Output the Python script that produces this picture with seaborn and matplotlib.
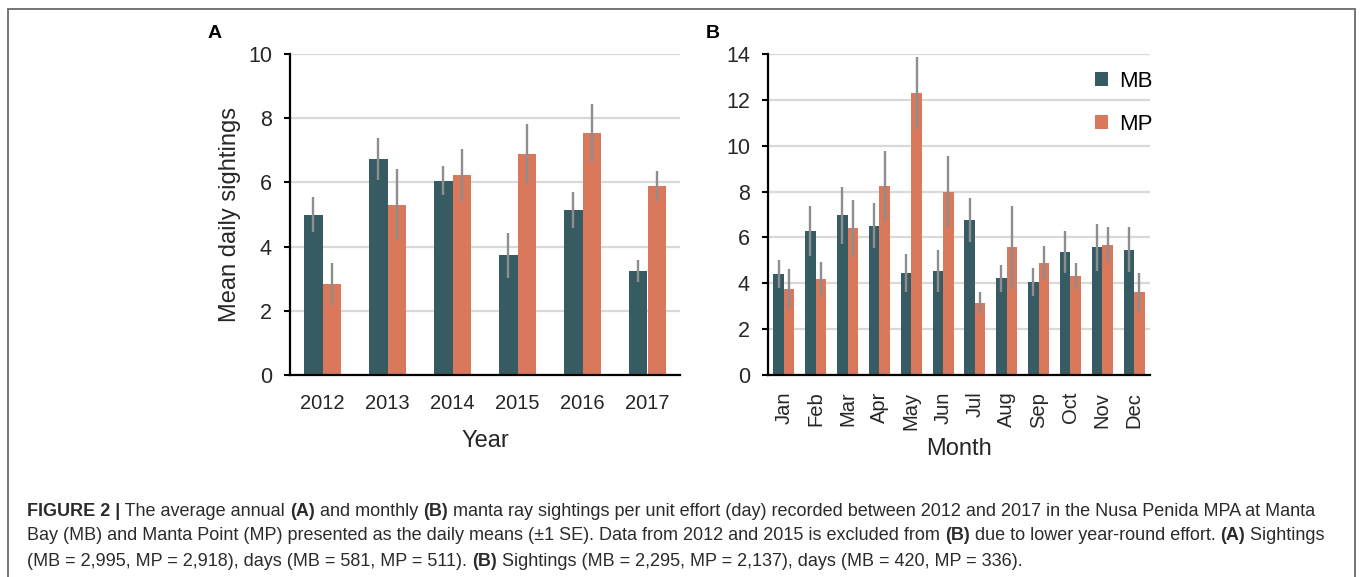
import pandas as pd
import numpy as np
import matplotlib
matplotlib.use("Agg")
import matplotlib.pyplot as plt
import matplotlib.patches as mpatches
import seaborn as sns

# Panel A: annual means (+- 1 SE)
years = ["2012", "2013", "2014", "2015", "2016", "2017"]
mb_year = [5.0, 6.72, 6.05, 3.73, 5.14, 3.24]
mb_year_se = [0.56, 0.65, 0.45, 0.70, 0.57, 0.33]
mp_year = [2.83, 5.31, 6.22, 6.88, 7.54, 5.89]
mp_year_se = [0.65, 1.10, 0.82, 0.94, 0.90, 0.47]

# Panel B: monthly means (+- 1 SE)
months = ["Jan", "Feb", "Mar", "Apr", "May", "Jun",
          "Jul", "Aug", "Sep", "Oct", "Nov", "Dec"]
mb_month = [4.41, 6.29, 6.97, 6.51, 4.44, 4.54, 6.75, 4.21, 4.07, 5.36, 5.57, 5.47]
mb_month_se = [0.62, 1.09, 1.25, 0.98, 0.84, 0.91, 0.96, 0.60, 0.61, 0.91, 1.03, 0.97]
mp_month = [3.74, 4.19, 6.40, 8.25, 12.30, 8.00, 3.16, 5.57, 4.88, 4.32, 5.69, 3.61]
mp_month_se = [0.87, 0.75, 1.25, 1.54, 1.59, 1.54, 0.45, 1.82, 0.73, 0.55, 0.78, 0.85]

sites = ["MB", "MP"]
palette = {"MB": "#375b62", "MP": "#d9785a"}
err_color = "#8e8e8e"

sns.set_theme(style="white")
plt.rcParams["font.family"] = ["Liberation Sans", "DejaVu Sans"]
plt.rcParams["text.color"] = "black"

W, H = 1360, 577
fig = plt.figure(figsize=(W / 100, H / 100), dpi=100)


def frame(px_left, px_right, px_top, px_bottom):
    return [px_left / W, 1 - px_bottom / H, (px_right - px_left) / W, (px_bottom - px_top) / H]


def long_df(cats, mb, mb_se, mp, mp_se, col):
    df = pd.DataFrame({
        col: cats * 2,
        "site": ["MB"] * len(cats) + ["MP"] * len(cats),
        "mean": mb + mp,
    })
    return df, [mb_se, mp_se]


def draw_panel(ax, df, ses, col, width, ymax, legend):
    sns.barplot(data=df, x=col, y="mean", hue="site", hue_order=sites,
                palette=palette, width=width, errorbar=None, saturation=1,
                linewidth=0, legend=legend, ax=ax, zorder=2)
    # +-1 SE error bars from bar positions
    for cont, se in zip(ax.containers, ses):
        xs = [b.get_x() + b.get_width() / 2 for b in cont]
        hs = [b.get_height() for b in cont]
        ax.errorbar(xs, hs, yerr=se, fmt="none", ecolor=err_color,
                    elinewidth=1.7, capsize=0, zorder=3)
    ax.set_ylim(0, ymax)
    ax.set_xlim(-0.5, len(df[col].unique()) - 0.5)
    ax.yaxis.grid(True, color="#d9d9d9", linewidth=1.6, zorder=0)
    ax.set_axisbelow(True)
    for s in ["top", "right"]:
        ax.spines[s].set_visible(False)
    for s in ["left", "bottom"]:
        ax.spines[s].set_color("black")
        ax.spines[s].set_linewidth(1.6)
    ax.tick_params(axis="y", left=True, length=4, width=1.5, color="black",
                   labelsize=15.5, pad=9)
    ax.tick_params(axis="x", bottom=False, labelsize=14.5, pad=8)


# ---- Panel A ----
axA = fig.add_axes(frame(290, 680, 54, 375))
dfA, seA = long_df(years, mb_year, mb_year_se, mp_year, mp_year_se, "Year")
draw_panel(axA, dfA, seA, "Year", 0.57, 10, False)
axA.set_yticks(np.arange(0, 11, 2))
axA.set_xlabel("Year", fontsize=17, labelpad=12)
axA.set_ylabel("Mean daily sightings", fontsize=17, labelpad=5)

# ---- Panel B ----
axB = fig.add_axes(frame(768, 1150, 54, 375))
dfB, seB = long_df(months, mb_month, mb_month_se, mp_month, mp_month_se, "Month")
draw_panel(axB, dfB, seB, "Month", 0.66, 14, True)
axB.set_yticks(np.arange(0, 15, 2))
axB.tick_params(axis="x", labelrotation=90, pad=6)
axB.set_xlabel("Month", fontsize=17, labelpad=6)
axB.set_ylabel("")
handles, labels = axB.get_legend_handles_labels()
axB.legend(handles, labels, loc="upper right", bbox_to_anchor=(1.03, 0.975),
           frameon=False, fontsize=16, handlelength=0.6, handleheight=0.6,
           handletextpad=0.5, labelspacing=1.0, borderaxespad=0)

fig.text(208 / W, 1 - 34 / H, "A", fontsize=14, fontweight="bold", va="center")
fig.text(706 / W, 1 - 34 / H, "B", fontsize=14, fontweight="bold", va="center")

# outer frame of the figure panel
fig.patches.append(mpatches.Rectangle((8 / W, -0.1), (1355 - 8) / W, 1 - 9 / H + 0.1,
                                      transform=fig.transFigure, fill=False,
                                      edgecolor="#6a6a6a", linewidth=1.3))

# ---- caption with bold runs ----
cap_lines = [
    [("FIGURE 2 |", True), (" The average annual ", False), ("(A)", True),
     (" and monthly ", False), ("(B)", True),
     (" manta ray sightings per unit effort (day) recorded between 2012 and 2017 in the Nusa Penida MPA at Manta", False)],
    [("Bay (MB) and Manta Point (MP) presented as the daily means (\u00b11 SE). Data from 2012 and 2015 is excluded from ", False),
     ("(B)", True), (" due to lower year-round effort. ", False), ("(A)", True), (" Sightings", False)],
    [("(MB = 2,995, MP = 2,918), days (MB = 581, MP = 511). ", False), ("(B)", True),
     (" Sightings (MB = 2,295, MP = 2,137), days (MB = 420, MP = 336).", False)],
]
cap_y = [511, 536, 561]
renderer = fig.canvas.get_renderer()
for line, yy in zip(cap_lines, cap_y):
    x = 27
    for txt, bold in line:
        t = fig.text(x / W, 1 - yy / H, txt, fontsize=13, va="center",
                     fontweight="bold" if bold else "normal", color="#2b2b2b")
        x += t.get_window_extent(renderer).width

fig.savefig("out.png", dpi=100)
